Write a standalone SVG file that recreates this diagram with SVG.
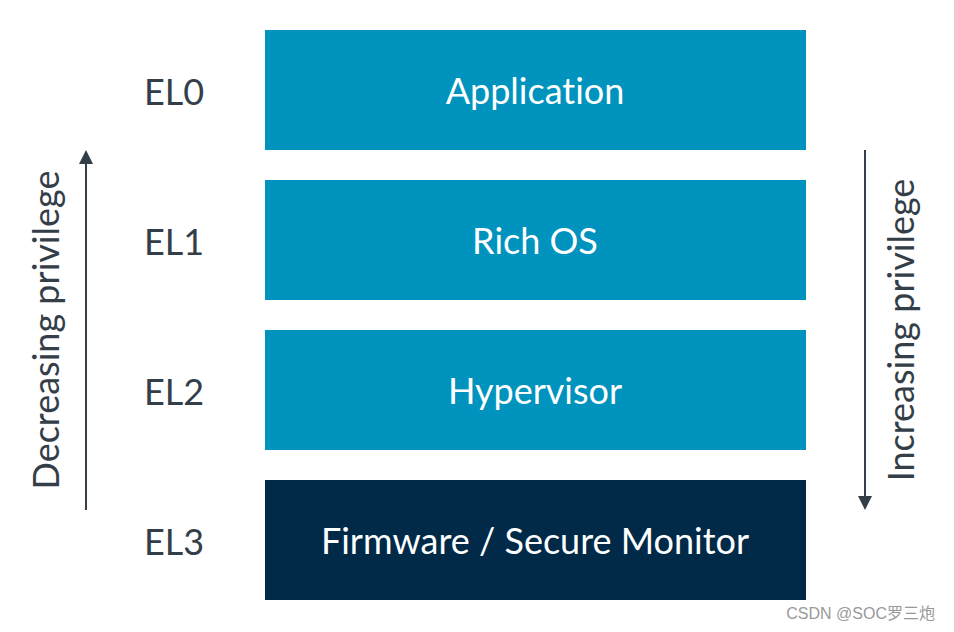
<svg xmlns="http://www.w3.org/2000/svg" width="954" height="632" viewBox="0 0 954 632">
<style>
text{font-variant-ligatures:none}
.lvl{fill:#0093be}
.dark{fill:#002a48}
.t{font-family:Lato,"Liberation Sans",sans-serif;font-size:36px;fill:#ffffff;text-anchor:middle;dominant-baseline:central}
.el{font-family:Lato,"Liberation Sans",sans-serif;font-size:36px;fill:#333e48;text-anchor:middle;dominant-baseline:central}
.side{font-family:Lato,"Liberation Sans",sans-serif;font-size:36px;fill:#333e48;text-anchor:middle;dominant-baseline:central}
.ln{stroke:#333e48;stroke-width:2;fill:none}
</style>
<rect width="954" height="632" fill="#ffffff"/>
<g id="el0"><rect class="lvl" x="265" y="30" width="541" height="120"/><text class="t" x="535" y="90">Application</text><text class="el" x="174" y="91">EL0</text></g>
<g id="el1"><rect class="lvl" x="265" y="180" width="541" height="120"/><text class="t" x="535" y="240">Rich OS</text><text class="el" x="174" y="241">EL1</text></g>
<g id="el2"><rect class="lvl" x="265" y="330" width="541" height="120"/><text class="t" x="535" y="390">Hypervisor</text><text class="el" x="174" y="391">EL2</text></g>
<g id="el3"><rect class="dark" x="265" y="480" width="541" height="120"/><text class="t" x="535" y="540">Firmware / Secure Monitor</text><text class="el" x="174" y="541">EL3</text></g>
<g id="connectors">
<path class="ln" d="M86,510 V164" />
<path d="M79,164 L86,150 L93,164 z" fill="#333e48"/>
<path class="ln" d="M865,150 V496" />
<path d="M858,496 L865,510 L872,496 z" fill="#333e48"/>
</g>
<g id="labels">
<text class="side" transform="translate(45,330) rotate(-90)">Decreasing privilege</text>
<text class="side" transform="translate(900,330) rotate(-90)">Increasing privilege</text>
</g>
<text x="935" y="619" font-family="'Liberation Sans','Noto Sans CJK SC',sans-serif" font-size="16" fill="#999999" text-anchor="end">CSDN @SOC罗三炮</text>
</svg>
